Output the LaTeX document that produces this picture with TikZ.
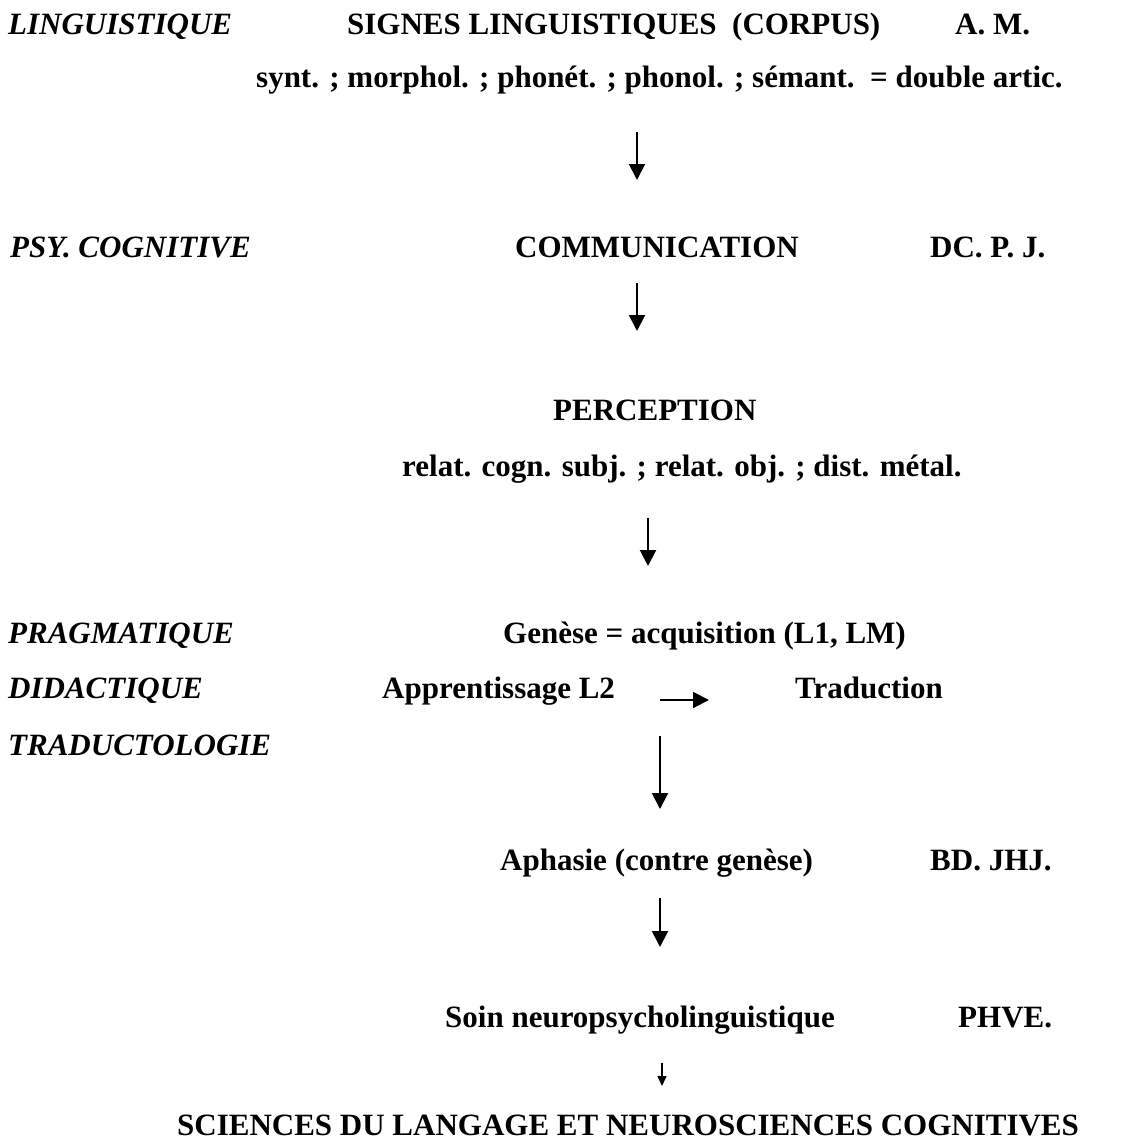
\documentclass[tikz,border=0pt]{standalone}
\usepackage{fontspec}
\setmainfont{Liberation Serif}
\usepackage{tikz}
\usetikzlibrary{arrows.meta}
\tikzstyle{field} = [anchor=base west, inner sep=0pt, font=\fontsize{31}{37}\selectfont\bfseries\itshape]
\tikzstyle{topic} = [anchor=base west, inner sep=0pt, font=\fontsize{31}{37}\selectfont\bfseries]
\tikzstyle{author} = [topic]
\tikzstyle{arrow} = [line width=2pt,-{Triangle[width=16pt,length=16pt]}]
\tikzstyle{smallarrow} = [line width=1.5pt,-{Triangle[width=9pt,length=10pt]}]

\begin{document}
\begin{tikzpicture}[x=1pt, y=-1pt]
		\useasboundingbox (0,0) rectangle (1122,1140);
		
		\node (Ling) [field] at (8,35) {LINGUISTIQUE};
		\node (Signes) [topic] at (347,35) {SIGNES LINGUISTIQUES\ \ (CORPUS)};
		\node (AM) [author] at (955,35) {A. M.};
		\node (Niveaux) [topic] at (256,88) {synt. ; morphol. ; phonét. ; phonol. ; sémant.\ \ = double artic.};
		
		\node (PsyCogn) [field] at (10,257) {PSY. COGNITIVE};
		\node (Comm) [topic] at (515,257) {COMMUNICATION};
		\node (DCPJ) [author] at (930,257) {DC. P. J.};
		
		\node (Perc) [topic] at (553,420) {PERCEPTION};
		\node (Relat) [topic] at (402,476) {relat. cogn. subj. ; relat. obj. ; dist. métal.};
		
		\node (Pragm) [field] at (8,643) {PRAGMATIQUE};
		\node (Genese) [topic] at (503,643) {Genèse = acquisition (L1, LM)};
		\node (Didact) [field] at (8,698) {DIDACTIQUE};
		\node (Appr) [topic] at (382,698) {Apprentissage L2};
		\node (Trad) [topic] at (795,698) {Traduction};
		\node (Tradlog) [field] at (8,755) {TRADUCTOLOGIE};
		
		\node (Aphasie) [topic] at (500,870) {Aphasie (contre genèse)};
		\node (BDJHJ) [author] at (930,870) {BD. JHJ.};
		
		\node (Soin) [topic] at (445,1027) {Soin neuropsycholinguistique};
		\node (PHVE) [author] at (958,1027) {PHVE.};
		
		\node (Sciences) [topic] at (177,1135) {SCIENCES DU LANGAGE ET NEUROSCIENCES COGNITIVES};
		
		% arrow ends
		\coordinate (a1) at (637,132);  \coordinate (b1) at (637,180);
		\coordinate (a2) at (637,283);  \coordinate (b2) at (637,331);
		\coordinate (a3) at (648,518);  \coordinate (b3) at (648,566);
		\coordinate (a4) at (660,700);  \coordinate (b4) at (709,700);
		\coordinate (a5) at (660,736);  \coordinate (b5) at (660,809);
		\coordinate (a6) at (660,898);  \coordinate (b6) at (660,947);
		\coordinate (a7) at (662,1063); \coordinate (b7) at (662,1086);
		
		\draw [arrow] (a1) -- (b1);
		\draw [arrow] (a2) -- (b2);
		\draw [arrow] (a3) -- (b3);
		\draw [arrow] (a4) -- (b4);
		\draw [arrow] (a5) -- (b5);
		\draw [arrow] (a6) -- (b6);
		\draw [smallarrow] (a7) -- (b7);
\end{tikzpicture}
\end{document}
